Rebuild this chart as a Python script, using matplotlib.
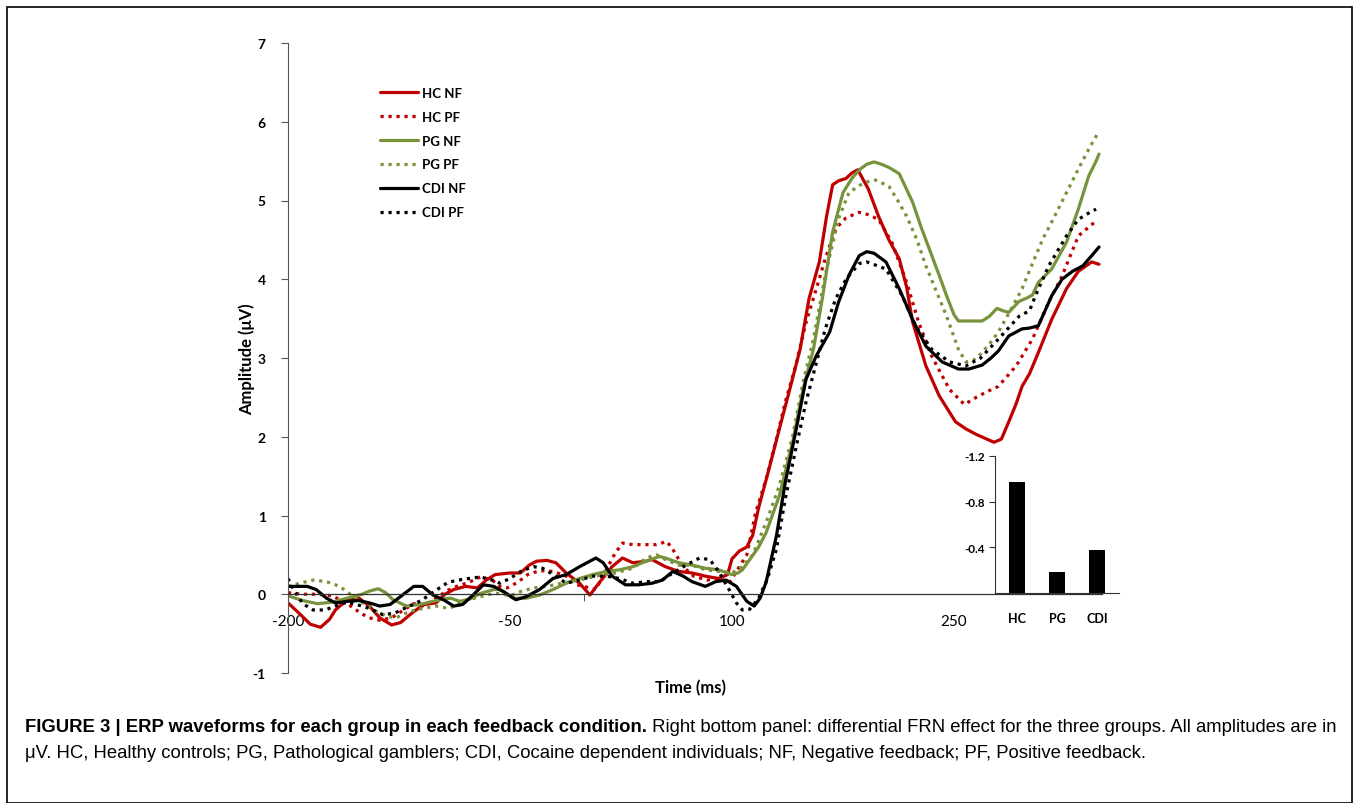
import matplotlib
matplotlib.use('Agg')
import matplotlib.pyplot as plt
from matplotlib.patches import Rectangle

# ---- data ----
hc_nf_t = [-200, -192, -185, -178, -172, -168, -160, -152, -145, -138, -130, -124, -115, -108, -100, -94, -88, -80, -72, -66, -60, -50, -43, -37, -32, -25, -19, -12, -3, 4, 10, 19, 26, 33, 42, 46, 55, 64, 73, 82, 91, 97, 100, 105, 110, 114, 118, 125, 132, 139, 146, 152, 159, 164, 168, 172, 177, 181, 185, 192, 199, 206, 213, 218, 222, 227, 231, 240, 251, 258, 265, 271, 277, 282, 287, 292, 296, 301, 307, 316, 326, 334, 340, 343, 348]
hc_nf_v = [-0.11, -0.25, -0.38, -0.42, -0.32, -0.2, -0.07, -0.05, -0.15, -0.3, -0.39, -0.36, -0.22, -0.13, -0.11, 0.0, 0.06, 0.1, 0.08, 0.18, 0.25, 0.27, 0.27, 0.37, 0.42, 0.43, 0.4, 0.27, 0.14, -0.01, 0.14, 0.35, 0.46, 0.4, 0.42, 0.44, 0.35, 0.29, 0.27, 0.23, 0.2, 0.25, 0.45, 0.55, 0.6, 0.75, 1.1, 1.59, 2.1, 2.6, 3.11, 3.75, 4.22, 4.81, 5.2, 5.25, 5.28, 5.35, 5.39, 5.15, 4.8, 4.5, 4.26, 3.9, 3.46, 3.15, 2.9, 2.52, 2.19, 2.1, 2.03, 1.98, 1.93, 1.97, 2.19, 2.42, 2.64, 2.8, 3.07, 3.49, 3.88, 4.1, 4.18, 4.22, 4.19]

hc_pf_t = [-200, -190, -180, -170, -160, -150, -145, -138, -130, -122, -115, -108, -100, -92, -86, -78, -70, -62, -57, -52, -45, -38, -30, -21, -12, -5, 0, 8, 15, 21, 26, 33, 42, 49, 56, 60, 67, 74, 83, 92, 98, 105, 110, 116, 123, 130, 136, 143, 150, 157, 163, 170, 177, 186, 192, 199, 208, 218, 226, 235, 247, 257, 265, 272, 280, 292, 303, 314, 323, 334, 346]
hc_pf_v = [0.02, 0.0, 0.0, -0.02, -0.12, -0.25, -0.3, -0.33, -0.3, -0.2, -0.12, -0.15, -0.05, 0.05, 0.1, 0.15, 0.22, 0.18, 0.1, 0.08, 0.15, 0.25, 0.3, 0.29, 0.23, 0.12, 0.1, 0.06, 0.31, 0.52, 0.65, 0.63, 0.63, 0.63, 0.67, 0.57, 0.35, 0.23, 0.18, 0.2, 0.14, 0.35, 0.5, 1.04, 1.46, 1.97, 2.44, 2.9, 3.45, 3.88, 4.26, 4.64, 4.78, 4.85, 4.82, 4.76, 4.47, 3.96, 3.46, 3.02, 2.6, 2.41, 2.5, 2.57, 2.64, 2.9, 3.24, 3.71, 4.04, 4.55, 4.74]

pg_nf_t = [-200, -190, -180, -170, -160, -150, -145, -139, -134, -129, -120, -111, -102, -95, -90, -84, -77, -70, -61, -57, -48, -39, -30, -21, -12, -3, 6, 15, 24, 33, 42, 51, 55, 64, 73, 82, 91, 100, 104, 107, 112, 118, 123, 132, 141, 148, 155, 161, 168, 175, 181, 186, 191, 196, 201, 206, 213, 222, 228, 235, 240, 245, 250, 253, 260, 269, 274, 279, 283, 287, 294, 299, 303, 307, 316, 326, 334, 341, 346, 348]
pg_nf_v = [-0.02, -0.08, -0.12, -0.1, -0.05, 0.0, 0.04, 0.07, 0.02, -0.07, -0.15, -0.13, -0.09, -0.06, -0.05, -0.09, -0.06, 0.01, 0.06, 0.06, -0.05, -0.05, -0.01, 0.06, 0.14, 0.2, 0.25, 0.29, 0.31, 0.35, 0.42, 0.48, 0.46, 0.4, 0.37, 0.33, 0.31, 0.25, 0.27, 0.31, 0.44, 0.6, 0.78, 1.25, 1.93, 2.6, 3.11, 3.75, 4.6, 5.1, 5.28, 5.39, 5.46, 5.49, 5.46, 5.42, 5.34, 4.98, 4.65, 4.3, 4.05, 3.79, 3.55, 3.47, 3.47, 3.47, 3.53, 3.63, 3.6, 3.58, 3.72, 3.76, 3.8, 3.96, 4.13, 4.47, 4.89, 5.31, 5.5, 5.59]

pg_pf_t = [-200, -192, -183, -174, -165, -158, -151, -142, -133, -127, -118, -109, -100, -91, -82, -70, -61, -57, -50, -42, -34, -25, -15, -3, 8, 21, 33, 42, 49, 55, 64, 73, 82, 91, 100, 107, 114, 123, 132, 141, 148, 155, 163, 172, 179, 186, 192, 197, 206, 212, 218, 225, 231, 238, 245, 253, 258, 263, 268, 274, 280, 288, 296, 303, 310, 318, 326, 334, 341, 348]
pg_pf_v = [0.1, 0.14, 0.18, 0.16, 0.1, 0.0, -0.09, -0.2, -0.28, -0.3, -0.22, -0.18, -0.15, -0.18, -0.09, -0.03, 0.01, 0.01, -0.02, 0.04, 0.08, 0.1, 0.14, 0.18, 0.23, 0.27, 0.33, 0.46, 0.5, 0.44, 0.37, 0.37, 0.31, 0.29, 0.27, 0.35, 0.5, 0.91, 1.38, 2.01, 2.69, 3.24, 4.05, 4.77, 5.1, 5.19, 5.24, 5.26, 5.18, 5.0, 4.8, 4.5, 4.17, 3.85, 3.53, 3.11, 2.95, 2.97, 3.05, 3.18, 3.33, 3.6, 3.88, 4.2, 4.51, 4.8, 5.1, 5.4, 5.65, 5.88]

cdi_nf_t = [-200, -187, -181, -174, -168, -160, -152, -145, -138, -131, -124, -115, -109, -102, -95, -88, -82, -75, -68, -61, -54, -46, -39, -30, -21, -12, -3, 4, 8, 13, 19, 28, 37, 46, 53, 60, 67, 73, 82, 89, 96, 103, 110, 115, 119, 123, 130, 136, 143, 150, 157, 166, 172, 179, 186, 191, 196, 204, 213, 222, 231, 242, 253, 260, 269, 275, 280, 287, 296, 301, 307, 316, 323, 330, 337, 344, 348]
cdi_nf_v = [0.1, 0.1, 0.06, -0.05, -0.11, -0.09, -0.08, -0.11, -0.15, -0.13, -0.03, 0.1, 0.1, -0.01, -0.07, -0.15, -0.13, -0.01, 0.12, 0.1, 0.03, -0.07, -0.03, 0.06, 0.2, 0.25, 0.35, 0.42, 0.46, 0.4, 0.23, 0.12, 0.12, 0.14, 0.18, 0.29, 0.23, 0.16, 0.1, 0.16, 0.18, 0.1, -0.09, -0.15, -0.05, 0.15, 0.74, 1.42, 2.06, 2.73, 3.03, 3.33, 3.71, 4.05, 4.3, 4.35, 4.33, 4.22, 3.88, 3.49, 3.15, 2.95, 2.86, 2.86, 2.91, 3.0, 3.09, 3.28, 3.37, 3.38, 3.41, 3.79, 4.0, 4.1, 4.17, 4.32, 4.41]

cdi_pf_t = [-200, -196, -190, -183, -175, -168, -160, -152, -145, -136, -128, -118, -110, -100, -92, -85, -78, -70, -62, -57, -50, -42, -34, -28, -19, -12, -3, 6, 15, 24, 33, 42, 51, 60, 69, 78, 85, 91, 98, 103, 107, 112, 118, 124, 130, 136, 143, 150, 157, 163, 170, 177, 186, 191, 197, 204, 215, 224, 235, 247, 258, 268, 280, 294, 301, 305, 314, 326, 334, 340, 346]
cdi_pf_v = [0.2, 0.05, -0.12, -0.2, -0.2, -0.15, -0.1, -0.14, -0.18, -0.26, -0.24, -0.15, -0.08, 0.05, 0.15, 0.18, 0.2, 0.22, 0.18, 0.14, 0.2, 0.3, 0.35, 0.33, 0.23, 0.14, 0.18, 0.23, 0.23, 0.2, 0.14, 0.16, 0.16, 0.27, 0.37, 0.46, 0.44, 0.29, 0.06, -0.11, -0.2, -0.19, -0.05, 0.2, 0.57, 1.21, 1.84, 2.44, 2.94, 3.37, 3.75, 4.0, 4.2, 4.22, 4.18, 4.13, 3.79, 3.41, 3.11, 2.95, 2.9, 3.0, 3.24, 3.53, 3.6, 3.79, 4.17, 4.55, 4.76, 4.83, 4.89]

x_tick_vals = [-200, -50, 100, 250]
y_tick_vals = [-1, 0, 1, 2, 3, 4, 5, 6, 7]

# inset: differential FRN effect
groups = ['HC', 'PG', 'CDI']
frn_effect = [-0.97, -0.18, -0.38]
inset_ticks = [-1.2, -0.8, -0.4]

RED = '#C00000'
GREEN = '#77933C'
BLACK = '#000000'
DOT = (0, (1, 1.5))

plt.rcParams['font.family'] = ['Lato', 'DejaVu Sans']

fig = plt.figure(figsize=(13.54, 8.04), dpi=100)
W, H = 1354, 804


def fig_box(x0, y0, x1, y1):
    # pixel box (top-left origin) -> figure fraction
    return [x0 / W, 1 - y1 / H, (x1 - x0) / W, (y1 - y0) / H]


ax = fig.add_axes(fig_box(288, 44, 1102, 674))

series = [
    (hc_nf_t, hc_nf_v, RED, '-', 'HC NF'),
    (hc_pf_t, hc_pf_v, RED, DOT, 'HC PF'),
    (pg_nf_t, pg_nf_v, GREEN, '-', 'PG NF'),
    (pg_pf_t, pg_pf_v, GREEN, DOT, 'PG PF'),
    (cdi_nf_t, cdi_nf_v, BLACK, '-', 'CDI NF'),
    (cdi_pf_t, cdi_pf_v, BLACK, DOT, 'CDI PF'),
]
for t, v, c, ls, lab in series:
    ax.plot(t, v, color=c, ls=ls, lw=2.3, label=lab,
            solid_capstyle='round', solid_joinstyle='round')

ax.set_xlim(-200, 350)
ax.set_ylim(-1, 7)

for s in ['top', 'right']:
    ax.spines[s].set_visible(False)
ax.spines['left'].set_color('#555555')
ax.spines['bottom'].set_position(('data', 0))
ax.spines['bottom'].set_color('#333333')
ax.spines['bottom'].set_linewidth(0.9)

ax.set_yticks(y_tick_vals)
ax.set_yticklabels([str(v) for v in y_tick_vals], fontweight='bold', fontsize=10)
ax.tick_params(axis='y', length=5, color='#555555', pad=11)

ax.set_xticks(x_tick_vals)
ax.set_xticklabels([str(v) for v in x_tick_vals], fontsize=11)
ax.tick_params(axis='x', length=0, pad=14)
ax.set_xticks([0], minor=True)
ax.tick_params(axis='x', which='minor', length=5, color='#333333')

ax.set_ylabel('Amplitude (μV)', fontweight='bold', fontsize=12)
ax.yaxis.set_label_coords(-0.04, 0.5)
ax.set_xlabel('Time (ms)', fontweight='bold', fontsize=12)
ax.xaxis.set_label_coords(0.494, -0.01)

ax.legend(loc='upper left', bbox_to_anchor=(368 / W, 1 - 76 / H), bbox_transform=fig.transFigure,
          frameon=False, handlelength=2.9, handletextpad=0.3, labelspacing=0.9,
          prop={'weight': 'bold', 'size': 9.5})

# inset bar chart
ins = fig.add_axes(fig_box(995, 457, 1119, 594))
ins.patch.set_alpha(0)
ins.bar(range(len(groups)), frn_effect, width=0.38, color='black')
ins.set_xlim(-0.55, len(groups) - 0.45)
ins.set_ylim(0, -1.2)
ins.set_yticks(inset_ticks)
ins.set_yticklabels([f'{v:.1f}' for v in inset_ticks], fontweight='bold', fontsize=8.5)
ins.tick_params(axis='y', length=4, color='#333333')
ins.set_xticks(range(len(groups)))
ins.set_xticklabels(groups, fontweight='bold', fontsize=9)
ins.tick_params(axis='x', length=0, pad=14)
for s in ['top', 'right']:
    ins.spines[s].set_visible(False)
ins.spines['left'].set_color('#333333')
ins.spines['bottom'].set_color('#333333')

# outer frame
fig.patches.append(Rectangle((6.5 / W, 0.5 / H), (1351.5 - 6.5) / W, (803 - 7.5) / H,
                             transform=fig.transFigure, fill=False, ec='black', lw=1.2))

# caption
cap_font = ['Liberation Sans Narrow', 'Liberation Sans', 'DejaVu Sans']
bold_part = 'FIGURE 3 | ERP waveforms for each group in each feedback condition.'
rest1 = ' Right bottom panel: differential FRN effect for the three groups. All amplitudes are in'
line2 = 'μV. HC, Healthy controls; PG, Pathological gamblers; CDI, Cocaine dependent individuals; NF, Negative feedback; PF, Positive feedback.'

fs = 12
t1 = fig.text(25 / W, 1 - 728 / H, bold_part, family=cap_font, fontweight='bold', fontsize=fs, va='center')
fig.canvas.draw()
r = fig.canvas.get_renderer()
bb = t1.get_window_extent(r)
t2 = fig.text(bb.x1 / W, 1 - 728 / H, rest1, family=cap_font, fontsize=fs, va='center')
fig.canvas.draw()
total = t2.get_window_extent(r).x1 - 25
scale = 1315 / total
fs2 = fs * scale
t1.set_fontsize(fs2)
fig.canvas.draw()
bb = t1.get_window_extent(r)
t2.set_fontsize(fs2)
t2.set_x(bb.x1 / W)
fig.text(25 / W, 1 - 754 / H, line2, family=cap_font, fontsize=fs2, va='center')

fig.savefig('out.png', dpi=100)
